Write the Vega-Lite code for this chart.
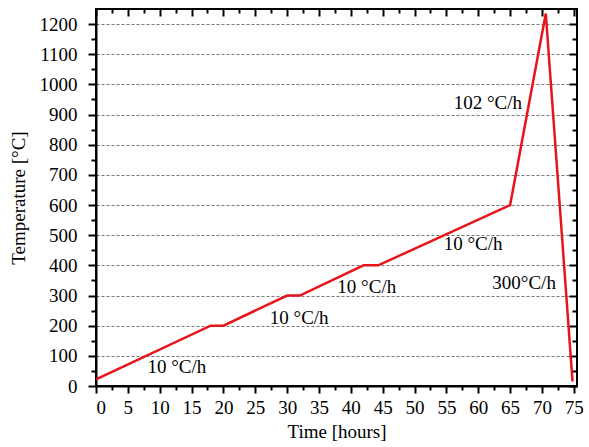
{
  "$schema": "https://vega.github.io/schema/vega-lite/v6.json",
  "width": 481,
  "height": 377,
  "autosize": "none",
  "padding": {"left": 96, "top": 9, "right": 12, "bottom": 61},
  "config": {
    "view": {"stroke": "black", "strokeWidth": 2}
  },
  "datasets": {
    "profile": [
      {"time": 0, "temp": 22},
      {"time": 18, "temp": 200},
      {"time": 20, "temp": 200},
      {"time": 30, "temp": 300},
      {"time": 32, "temp": 300},
      {"time": 42, "temp": 400},
      {"time": 44.3, "temp": 400},
      {"time": 65, "temp": 600},
      {"time": 70.6, "temp": 1235},
      {"time": 74.8, "temp": 15}
    ],
    "labels": [
      {"time": 12.7, "temp": 64, "text": "10 °C/h"},
      {"time": 31.9, "temp": 227, "text": "10 °C/h"},
      {"time": 42.5, "temp": 327, "text": "10 °C/h"},
      {"time": 59.2, "temp": 470, "text": "10 °C/h"},
      {"time": 61.5, "temp": 937, "text": "102 °C/h"},
      {"time": 67.2, "temp": 340, "text": "300°C/h"}
    ]
  },
  "layer": [
    {
      "data": {"name": "profile"},
      "mark": {"type": "line", "color": "#e8141c", "strokeWidth": 2.5, "clip": true},
      "encoding": {
        "x": {"field": "time", "type": "quantitative",
          "scale": {"domain": [0, 75.5], "nice": false, "zero": false},
          "axis": {"orient": "bottom", "title": "Time [hours]", "format": "d", "labelFont": "Liberation Serif", "labelFontSize": 19, "labelColor": "black", "titleFont": "Liberation Serif", "titleFontSize": 19, "titleFontWeight": "normal", "titleColor": "black", "values": [0,5,10,15,20,25,30,35,40,45,50,55,60,65,70,75], "tickSize": 7, "tickWidth": 2, "tickColor": "black", "domainColor": "black", "domainWidth": 2, "labelPadding": 5, "titlePadding": 5, "grid": false}},
        "y": {"field": "temp", "type": "quantitative",
          "scale": {"domain": [0, 1250], "nice": false, "zero": false},
          "axis": {"orient": "left", "title": "Temperature [°C]", "format": "d", "labelFont": "Liberation Serif", "labelFontSize": 19, "labelColor": "black", "titleFont": "Liberation Serif", "titleFontSize": 19, "titleFontWeight": "normal", "titleColor": "black", "values": [0,100,200,300,400,500,600,700,800,900,1000,1100,1200], "tickSize": 8, "tickWidth": 2, "tickColor": "black", "domainColor": "black", "domainWidth": 2, "labelPadding": 11, "titlePadding": 11, "grid": true, "gridColor": "#777777", "gridDash": [3, 2], "gridWidth": 1}}
      }
    },
    {
      "data": {"name": "profile"},
      "mark": {"type": "line", "opacity": 0},
      "encoding": {
        "x": {"field": "time", "type": "quantitative",
          "axis": {"orient": "bottom", "title": null, "labels": false, "domain": false, "grid": false, "tickSize": 4, "tickWidth": 2, "tickColor": "black", "values": [2.5,7.5,12.5,17.5,22.5,27.5,32.5,37.5,42.5,47.5,52.5,57.5,62.5,67.5,72.5]}},
        "y": {"field": "temp", "type": "quantitative",
          "axis": {"orient": "left", "title": null, "labels": false, "domain": false, "grid": false, "tickSize": 5, "tickWidth": 2, "tickColor": "black", "values": [50,150,250,350,450,550,650,750,850,950,1050,1150]}}
      }
    },
    {
      "data": {"name": "profile"},
      "mark": {"type": "line", "opacity": 0},
      "encoding": {
        "x": {"field": "time", "type": "quantitative",
          "axis": {"orient": "top", "title": null, "labels": false, "domain": false, "grid": false, "tickSize": -7, "tickWidth": 2, "tickColor": "black", "values": [0,5,10,15,20,25,30,35,40,45,50,55,60,65,70,75]}},
        "y": {"field": "temp", "type": "quantitative",
          "axis": {"orient": "right", "title": null, "labels": false, "domain": false, "grid": false, "tickSize": -8, "tickWidth": 2, "tickColor": "black", "values": [0,100,200,300,400,500,600,700,800,900,1000,1100,1200]}}
      }
    },
    {
      "data": {"name": "profile"},
      "mark": {"type": "line", "opacity": 0},
      "encoding": {
        "x": {"field": "time", "type": "quantitative",
          "axis": {"orient": "top", "title": null, "labels": false, "domain": false, "grid": false, "tickSize": -4, "tickWidth": 2, "tickColor": "black", "values": [2.5,7.5,12.5,17.5,22.5,27.5,32.5,37.5,42.5,47.5,52.5,57.5,62.5,67.5,72.5]}},
        "y": {"field": "temp", "type": "quantitative",
          "axis": {"orient": "right", "title": null, "labels": false, "domain": false, "grid": false, "tickSize": -5, "tickWidth": 2, "tickColor": "black", "values": [50,150,250,350,450,550,650,750,850,950,1050,1150]}}
      }
    },
    {
      "data": {"name": "labels"},
      "mark": {"type": "text", "font": "Liberation Serif", "fontSize": 19, "color": "black", "align": "center", "baseline": "middle"},
      "encoding": {
        "x": {"field": "time", "type": "quantitative", "axis": null},
        "y": {"field": "temp", "type": "quantitative", "axis": null},
        "text": {"field": "text"}
      }
    }
  ],
  "resolve": {"axis": {"x": "independent", "y": "independent"}}
}
